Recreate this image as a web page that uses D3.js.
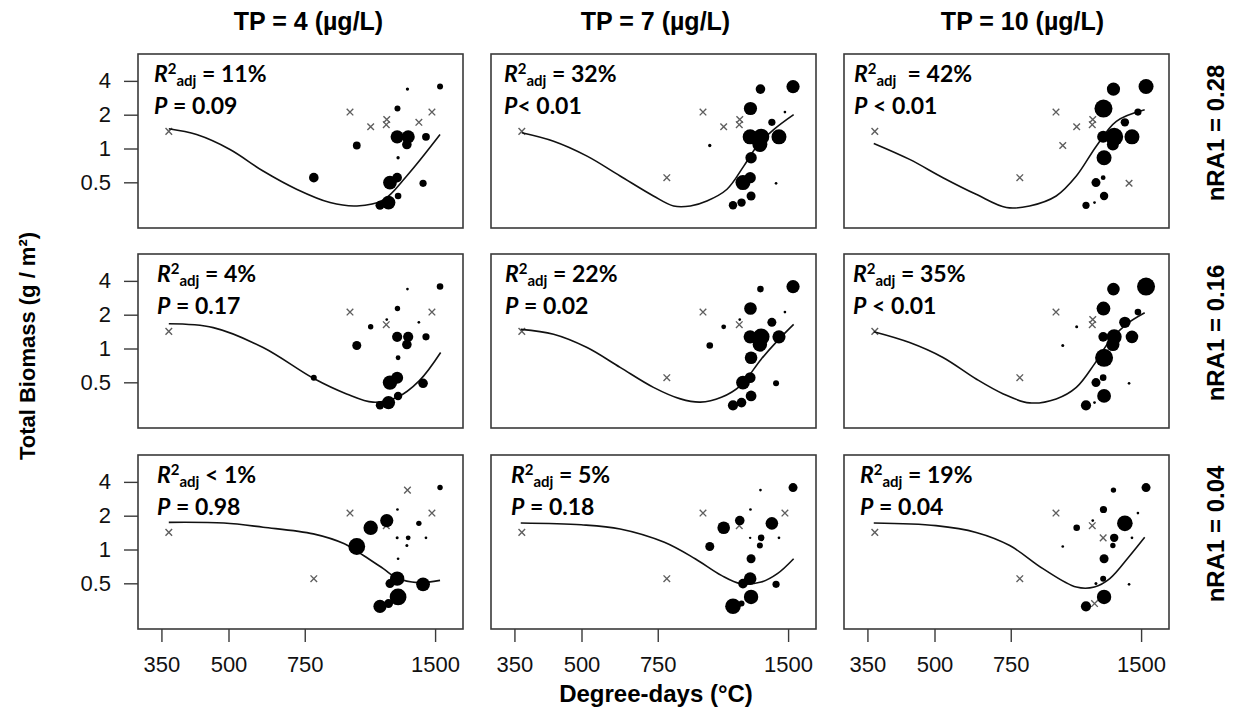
<!DOCTYPE html>
<html lang="en">
<head>
<meta charset="utf-8">
<title>Total biomass vs degree-days</title>
<script src="https://d3js.org/d3.v7.min.js"></script>
<style>
  body { margin: 0; background: #fff; }
  text { white-space: pre; }
</style>
</head>
<body>
<div id="chart"></div>
<script>
// same 23 sites appear in every panel; only marker size changes (0 = open cross)
const degreeDays = [364, 954, 1065, 1160, 1157, 1376, 1475, 1295, 1540, 1228, 1226, 1300,
                    1291, 1429, 989, 1232, 787, 1180, 1226, 1407, 1232, 1171, 1119];
const biomass = [1.42, 2.11, 1.56, 1.81, 1.63, 1.71, 2.11, 3.38, 3.56, 2.27, 1.27, 1.27,
                 1.085, 1.27, 1.063, 0.827, 0.55, 0.497, 0.55, 0.49, 0.378, 0.33, 0.312];

// marker weights per panel, rows nRA1 = 0.28 / 0.16 / 0.04, cols TP = 4 / 7 / 10
const sizeP1 = [0, 0, 0, 0, 0, 0, 0, 0.55, 1, 1, 2.2, 2.2, 1.6, 1.3, 1.3, 0.55, 1.6, 2.3, 1.6, 1.2, 1.1, 2.3, 1.5];
const sizeP2 = [0, 0, 0, 0, 0, 1.2, 0.45, 1.6, 2.2, 2.2, 2.5, 2.7, 2.5, 2.5, 0.55, 1.9, 0, 2.5, 1.9, 0.45, 1.5, 1.4, 1.4];
const sizeP3 = [0, 0, 0, 0, 0, 1.4, 1.2, 2.2, 2.5, 3.0, 2.0, 3.0, 2.0, 2.5, 0, 2.5, 0, 1.5, 0.8, 0, 1.4, 0.45, 1.2];
const sizeP4 = [0, 0, 0.9, 0.45, 0, 0.45, 0, 0.45, 1.1, 0.9, 1.7, 1.7, 1.6, 1.2, 1.5, 0.8, 1.0, 2.4, 2.0, 1.6, 1.4, 2.2, 1.4];
const sizeP5 = [0, 0, 0.8, 0.45, 0, 1.5, 0.45, 1.1, 2.2, 2.1, 2.2, 2.8, 2.4, 2.2, 1.1, 2.1, 0, 2.3, 1.8, 1.0, 1.8, 1.6, 1.7];
const sizeP6 = [0, 0, 0.5, 0, 0, 1.9, 1.1, 2.1, 3.0, 2.3, 1.6, 2.5, 2.2, 2.1, 0.5, 3.0, 0, 1.5, 1.1, 0.45, 2.3, 0.45, 1.7];
const sizeP7 = [0, 0, 2.4, 2.2, 0, 0.9, 0, 0, 0.9, 0.45, 0.5, 0.8, 0.5, 0.45, 2.8, 0.45, 0, 1.5, 2.4, 2.3, 2.8, 1.5, 2.2];
const sizeP8 = [0, 0, 2.1, 1.6, 0, 2.1, 0, 0.45, 1.5, 0.45, 0.4, 1.1, 1.0, 0.45, 1.5, 1.5, 0, 1.6, 2.1, 1.2, 2.4, 1.0, 2.6];
const sizeP9 = [0, 0, 1.1, 0.45, 0, 2.6, 0.45, 0.9, 1.5, 1.2, 0, 1.4, 0.9, 0.45, 0.45, 1.5, 0, 0.5, 1.0, 0.45, 2.4, 0, 1.7];

// fitted curves [degree-days, biomass]
const fitP1 = [[364, 1.50], [422, 1.33], [504, 0.98], [601, 0.63], [718, 0.434], [858, 0.33], [990, 0.308], [1139, 0.348], [1290, 0.569], [1540, 1.33]];
const fitP2 = [[364, 1.38], [431, 1.16], [515, 0.855], [614, 0.569], [733, 0.378], [816, 0.308], [892, 0.308], [974, 0.341], [1084, 0.434], [1185, 0.697], [1271, 1.048], [1389, 1.47], [1545, 2.0]];
const fitP3 = [[362, 1.11], [438, 0.80], [523, 0.55], [624, 0.391], [733, 0.298], [829, 0.308], [955, 0.378], [1063, 0.569], [1182, 1.048], [1315, 1.745], [1529, 2.21]];
const fitP4 = [[364, 1.66], [461, 1.535], [601, 1.02], [785, 0.543], [937, 0.394], [1078, 0.333], [1226, 0.368], [1380, 0.518], [1545, 0.922]];
const fitP5 = [[362, 1.48], [431, 1.34], [515, 1.02], [614, 0.679], [733, 0.451], [846, 0.356], [941, 0.333], [1052, 0.368], [1165, 0.468], [1300, 0.804], [1417, 1.17], [1545, 1.64]];
const fitP6 = [[362, 1.41], [438, 1.13], [523, 0.832], [624, 0.535], [721, 0.394], [829, 0.328], [955, 0.356], [1063, 0.451], [1170, 0.726], [1270, 1.17], [1386, 1.64], [1529, 2.08]];
const fitP7 = [[364, 1.745], [488, 1.72], [601, 1.58], [785, 1.377], [926, 1.123], [1025, 0.885], [1139, 0.675], [1226, 0.557], [1366, 0.507], [1540, 0.531]];
const fitP8 = [[362, 1.72], [499, 1.66], [614, 1.525], [777, 1.16], [915, 0.827], [1052, 0.588], [1165, 0.497], [1300, 0.513], [1417, 0.609], [1545, 0.827]];
const fitP9 = [[362, 1.72], [504, 1.63], [624, 1.42], [746, 1.085], [890, 0.675], [1063, 0.463], [1170, 0.463], [1270, 0.55], [1414, 0.885], [1529, 1.285]];

const r2Text = [" = 11%", " = 32%", "  = 42%", " = 4%", " = 22%", " = 35%", " < 1%", " = 5%", " = 19%"];
const pText = [" = 0.09", "< 0.01", " < 0.01", " = 0.17", " = 0.02", " < 0.01", " = 0.98", " = 0.18", " = 0.04"];
const tpLabels = ["TP = 4 (µg/L)", "TP = 7 (µg/L)", "TP = 10 (µg/L)"];
const nraLabels = ["nRA1 = 0.28", "nRA1 = 0.16", "nRA1 = 0.04"];
const xTicks = [350, 500, 750, 1500];
const yTicks = [0.5, 1, 2, 4];

const sizes = [sizeP1, sizeP2, sizeP3, sizeP4, sizeP5, sizeP6, sizeP7, sizeP8, sizeP9];
const fits = [fitP1, fitP2, fitP3, fitP4, fitP5, fitP6, fitP7, fitP8, fitP9];

// layout
const W = 1233, H = 711;
const panelW = 325, panelH = 174;
const colX = [138, 491, 844];
const rowY = [54, 254, 455];
const statDx = [16, 13, 10, 19, 14, 9, 19, 20, 16];
const arial = "'Liberation Sans', Arial, sans-serif";
const calibri = "Lato, 'Open Sans', sans-serif";

const svg = d3.select("#chart").append("svg")
  .attr("width", W).attr("height", H)
  .attr("font-family", arial);

const x = d3.scaleLog().domain([309, 1740]).range([0, panelW]);
const y = d3.scaleLog().domain([0.196, 6.94]).range([panelH, 0]);
const rad = d3.scaleLinear().domain([0, 3]).range([0, 9]);
const line = d3.line()
  .x(d => x(d[0]))
  .y(d => y(d[1]))
  .curve(d3.curveCatmullRom.alpha(0.5));
const cross = d3.symbol(d3.symbolX, 30);

for (let row = 0; row < 3; row++) {
  for (let col = 0; col < 3; col++) {
    const k = row * 3 + col;
    const g = svg.append("g").attr("transform", `translate(${colX[col]},${rowY[row]})`);
    const pts = degreeDays.map((d, i) => ({ dd: d, bm: biomass[i], w: sizes[k][i] }));

    g.append("g").selectAll("path")
      .data(pts.filter(p => p.w === 0))
      .join("path")
      .attr("transform", p => `translate(${x(p.dd)},${y(p.bm)})`)
      .attr("d", cross)
      .attr("fill", "none")
      .attr("stroke", "#5e5e5e")
      .attr("stroke-width", 1.4);

    g.append("path")
      .datum(fits[k])
      .attr("d", line)
      .attr("fill", "none")
      .attr("stroke", "#111")
      .attr("stroke-width", 1.6);

    g.append("g").selectAll("circle")
      .data(pts.filter(p => p.w > 0))
      .join("circle")
      .attr("cx", p => x(p.dd))
      .attr("cy", p => y(p.bm))
      .attr("r", p => rad(p.w))
      .attr("fill", "#000");

    g.append("rect")
      .attr("width", panelW).attr("height", panelH)
      .attr("fill", "none")
      .attr("stroke", "#3a3a3a")
      .attr("stroke-width", 1.6);

    // stats text
    const st = g.append("g")
      .attr("font-family", calibri)
      .attr("font-weight", "bold")
      .attr("font-size", 23)
      .attr("fill", "#000");
    const t1 = st.append("text").attr("x", statDx[k]).attr("y", 28);
    t1.append("tspan").attr("font-style", "italic").text("R");
    t1.append("tspan").attr("font-size", 15).attr("dy", -8).text("2");
    t1.append("tspan").attr("font-size", 15).attr("dy", 12).text("adj");
    t1.append("tspan").attr("dy", -4).text(r2Text[k]);
    const t2 = st.append("text").attr("x", statDx[k]).attr("y", 60);
    t2.append("tspan").attr("font-style", "italic").text("P");
    t2.append("tspan").text(pText[k]);

    if (col === 0) {
      const ay = g.append("g")
        .call(d3.axisLeft(y).tickValues(yTicks).tickFormat(d => d).tickSize(14).tickPadding(13))
        .attr("font-size", 22).attr("font-family", arial);
      ay.select(".domain").remove();
      ay.selectAll("line").attr("stroke", "#3a3a3a").attr("stroke-width", 1.4);
      ay.selectAll("text").attr("fill", "#111");
    }
    if (row === 2) {
      const ax = g.append("g")
        .attr("transform", `translate(0,${panelH})`)
        .call(d3.axisBottom(x).tickValues(xTicks).tickFormat(d3.format("d")).tickSize(13).tickPadding(14))
        .attr("font-size", 22).attr("font-family", arial);
      ax.select(".domain").remove();
      ax.selectAll("line").attr("stroke", "#3a3a3a").attr("stroke-width", 1.4);
      ax.selectAll("text").attr("fill", "#111");
    }
  }
}

// column titles
svg.append("g").selectAll("text")
  .data(tpLabels)
  .join("text")
  .attr("x", (d, i) => colX[i] + panelW / 2 + [8, 2, 16][i])
  .attr("y", 30)
  .attr("text-anchor", "middle")
  .attr("font-weight", "bold")
  .attr("font-size", 25)
  .text(d => d);

// row labels on the right
svg.append("g").selectAll("text")
  .data(nraLabels)
  .join("text")
  .attr("transform", (d, i) => `translate(1224,${rowY[i] + panelH / 2 - 8}) rotate(-90)`)
  .attr("text-anchor", "middle")
  .attr("font-weight", "bold")
  .attr("font-size", 24)
  .text(d => d);

// axis titles
svg.append("text")
  .attr("transform", "translate(35,346) rotate(-90)")
  .attr("text-anchor", "middle")
  .attr("font-weight", "bold")
  .attr("font-size", 22)
  .text("Total Biomass (g / m²)");

svg.append("text")
  .attr("x", 656).attr("y", 702)
  .attr("text-anchor", "middle")
  .attr("font-weight", "bold")
  .attr("font-size", 24)
  .text("Degree-days (°C)");
</script>
</body>
</html>
